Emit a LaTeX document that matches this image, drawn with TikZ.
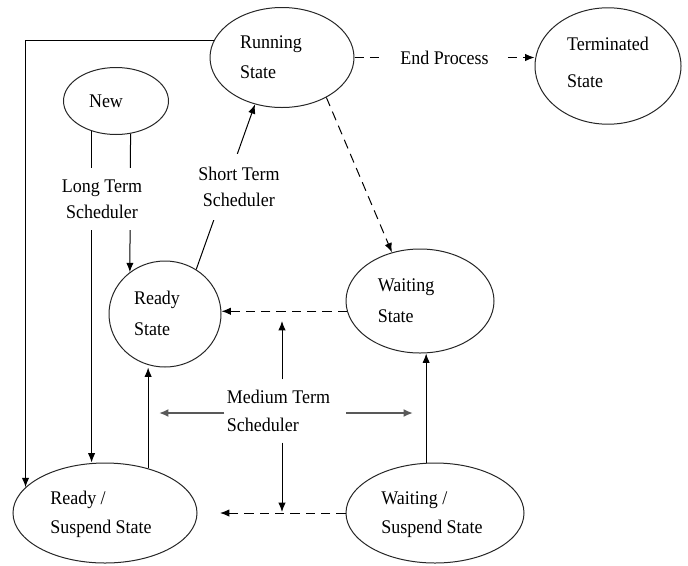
\documentclass[tikz,border=0pt]{standalone}
\usepackage{fontspec}
\setmainfont{Liberation Serif}[FakeStretch=0.93]
\usetikzlibrary{shapes.geometric,arrows.meta}
\newcommand{\tl}[2]{\begin{tabular}{@{}l@{\hspace{#1}}}#2\end{tabular}}
\begin{document}
\begin{tikzpicture}[x=0.75pt,y=-0.75pt,
  st/.style={draw=black!85, ellipse, line width=0.75pt, inner sep=0pt,
    font=\fontsize{14.5}{23}\selectfont},
  lbl/.style={fill=white, align=center, font=\fontsize{14.5}{19.5}\selectfont},
  arr/.style={-{Latex[length=7pt,width=5.5pt]}, line width=0.75pt},
  dsh/.style={arr, dash pattern=on 7pt off 4.5pt},
  marr/.style={-{Latex[length=7pt,width=6pt]}, line width=1.6pt, draw=black!65, fill=black!75}]
\useasboundingbox (0,0) rectangle (688,565);

% states
\node[st, minimum width=108pt, minimum height=75pt] (run) at (282,57.5) {\tl{16.5pt}{Running\\State}};
\node[st, minimum width=109.5pt, minimum height=78pt, font=\fontsize{14.5}{27.5}\selectfont] (term) at (608,66) {\tl{0pt}{Terminated\\State\rule[-15pt]{0pt}{0pt}}};
\node[st, minimum width=78.75pt, minimum height=50.25pt] (new) at (116,101) {\tl{15pt}{New}};
\node[st, minimum width=84pt, minimum height=79.5pt] (ready) at (165,314) {\tl{12pt}{Ready\\State}};
\node[st, minimum width=111pt, minimum height=78pt] (wait) at (420,301) {\tl{21pt}{Waiting\\State}};
\node[st, minimum width=138pt, minimum height=75pt, font=\fontsize{14.5}{22}\selectfont] (rsus) at (105,513) {\tl{6pt}{Ready /\\Suspend State}};
\node[st, minimum width=133.5pt, minimum height=75pt, font=\fontsize{14.5}{22}\selectfont] (wsus) at (435,513) {\tl{4.5pt}{Waiting /\\Suspend State}};

% free ends
\coordinate (mU) at (282,321);
\coordinate (mD) at (282,512);
\coordinate (mL) at (159,413);
\coordinate (mR) at (413,413);
\coordinate (rsE) at (220,513);

% connectors
\draw[dsh] (run.east) -- node[lbl, inner xsep=14pt, inner ysep=2pt] (endp) {End Process} (run.east -| term.west);
\draw[dsh] (run.-42) -- (wait.120);
\draw[arr] (ready.55) -- node[lbl, xshift=10pt, inner ysep=10pt, inner xsep=1pt] (stsch) {Short Term\\Scheduler} (run.240);

\draw[arr] (new.-66) -- (ready.130);
\draw[arr] (new.231) -- (new.231 |- rsus.north);
\node[lbl, inner ysep=9pt, inner xsep=1pt] (ltsch) at (102,199) {Long Term\\Scheduler};

\draw[arr] (run.166) -| (rsus.162.6);

\draw[arr] (rsus.46.7) -- (rsus.46.7 |- ready.south);
\draw[arr] (wsus.100) -- (wsus.100 |- wait.south);

\draw[dsh] (wait.188.5) -- (wait.188.5 -| ready.east);
\draw[dsh] (wsus.west) -- (rsE);

\node[align=left, inner xsep=2pt, inner ysep=8pt, font=\fontsize{14.5}{21}\selectfont] (med) at (278.5,411) {Medium Term\\Scheduler};
\draw[arr] (med.north -| mU) -- (mU);
\draw[arr] (med.south -| mD) -- (mD);
\draw[marr] (med.west |- mL) -- (mL);
\draw[marr, shorten <=10pt] (med.east |- mR) -- (mR);
\end{tikzpicture}
\end{document}
